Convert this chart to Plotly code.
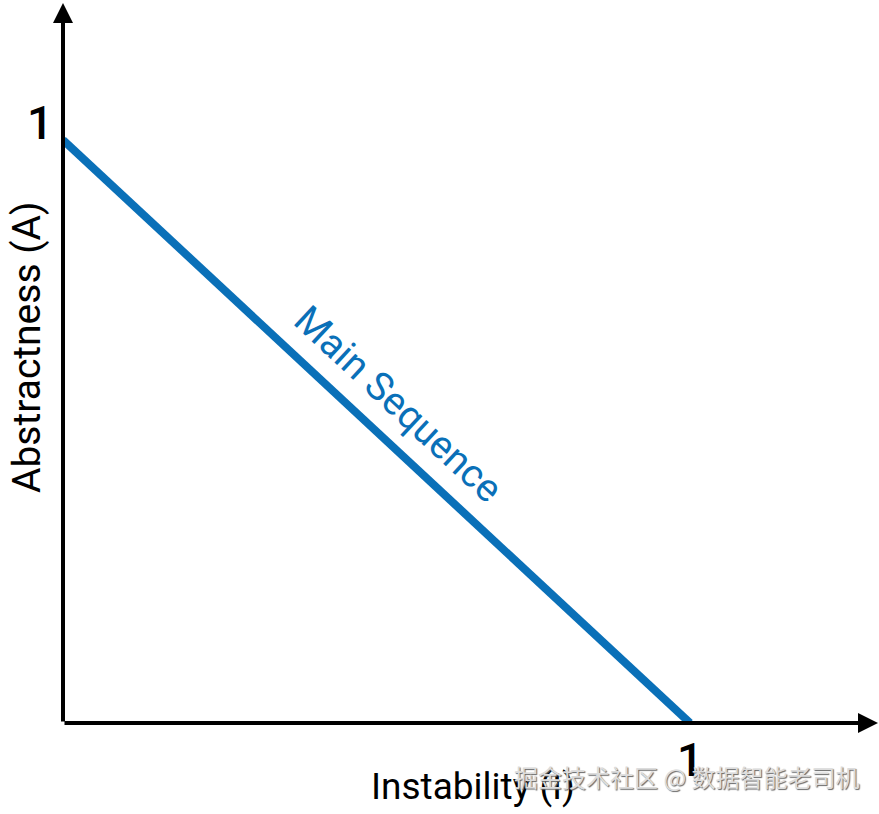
import plotly.graph_objects as go

# main sequence: A + I = 1
instability = [0, 1]
abstractness = [1, 0]

x_ticks = [1]
y_ticks = [1]

BLUE = "#0A70B8"
FONT = "Roboto, Noto Sans, sans-serif"
W, H = 879, 814
L, B = 63, 91          # origin at page pixel (63, 723)
UNIT_X, UNIT_Y = 627, 583

X_MAX = (878 - L) / UNIT_X
Y_MAX = (H - B - 3) / UNIT_Y


def paper(px, py):
    # page pixel -> paper fraction of the plot area
    return (px - L) / (W - L), (H - py - B) / (H - B)


fig = go.Figure(go.Scatter(
    x=instability,
    y=abstractness,
    mode="lines",
    line=dict(color=BLUE, width=8),
    cliponaxis=False,
    hoverinfo="skip",
))

annotations = []

# axes drawn as arrows from the origin
for tip in [(X_MAX, 0), (0, Y_MAX)]:
    annotations.append(dict(
        x=tip[0], y=tip[1], ax=0, ay=0, xref="x", yref="y", axref="x", ayref="y",
        text="", showarrow=True, arrowhead=2, arrowsize=1, arrowwidth=4,
        arrowcolor="black", standoff=0, startstandoff=0,
    ))


def label(text, px, py, size, color="black", angle=0, family=FONT, weight=400, **kw):
    x, y = paper(px, py)
    annotations.append(dict(
        x=x, y=y, xref="paper", yref="paper", text=text, showarrow=False,
        xanchor="center", yanchor="middle", textangle=angle,
        font=dict(family=family, size=size, color=color, weight=weight, **kw),
    ))


# tick labels
for v in x_ticks:
    label(str(v), L + v * UNIT_X, 760, 46, weight=500)
for v in y_ticks:
    label(str(v), 40, H - B - v * UNIT_Y - 17, 46, weight=500)

# axis titles
label("Instability (I)", 473, 787, 37)
label("Abstractness (A)", 27, 347, 39, angle=-90)

# line label
label("Main Sequence", 398, 404, 39, color=BLUE, angle=42.9)

# watermark
label("掘金技术社区 @ 数据智能老司机", 686, 776, 24, color="#dcdcdc",
      family="Noto Sans CJK SC", shadow="1px 1px 1px #666")

fig.update_layout(
    width=W,
    height=H,
    margin=dict(l=L, r=0, t=0, b=B),
    paper_bgcolor="white",
    plot_bgcolor="white",
    showlegend=False,
    xaxis=dict(range=[0, (W - L) / UNIT_X], visible=False, fixedrange=True),
    yaxis=dict(range=[0, (H - B) / UNIT_Y], visible=False, fixedrange=True),
    annotations=annotations,
)

fig.write_html(
    "out.html",
    config={"displayModeBar": False},
    post_script="document.body.style.margin='0';",
)
